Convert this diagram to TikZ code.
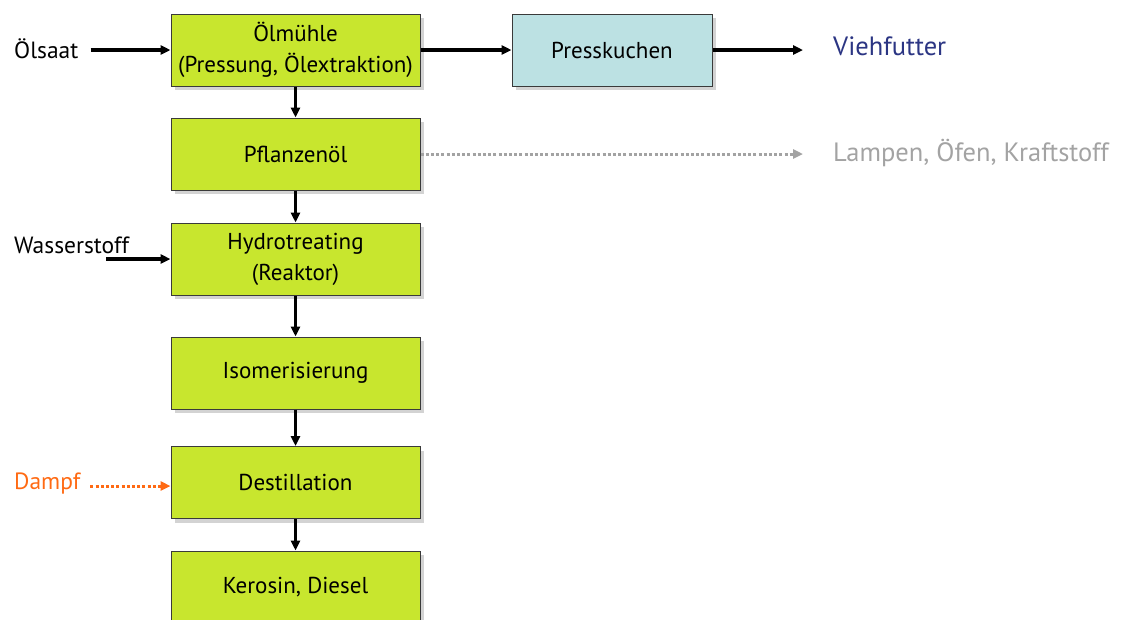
\documentclass[tikz,border=0pt]{standalone}
\usepackage{fontspec}
\setmainfont{PT Sans}
\usetikzlibrary{arrows.meta,shadows}
\definecolor{procgreen}{HTML}{C8E62E}
\definecolor{cakeblue}{HTML}{BCE1E3}
\definecolor{feedblue}{HTML}{2B3583}
\definecolor{usegray}{HTML}{A3A3A3}
\definecolor{steamorange}{HTML}{FF6A13}
\definecolor{edgegray}{HTML}{3A3A3A}
\tikzset{
  procbox/.style={draw=edgegray, line width=1pt, fill=procgreen,
    minimum width=249pt, minimum height=72pt, align=center,
    font=\fontsize{23}{31}\selectfont, inner sep=2pt,
    drop shadow={opacity=0.35, shadow xshift=4pt, shadow yshift=-4pt}},
  cakebox/.style={procbox, fill=cakeblue, minimum width=200pt},
  lbl/.style={inner sep=0pt, font=\fontsize{23.5}{28}\selectfont},
  outlbl/.style={lbl, font=\fontsize{26.5}{32}\selectfont},
  flow/.style={line width=3.2pt, -{Triangle[length=10pt,width=9pt]}},
  dotflow/.style={line width=3pt, dash pattern=on 3pt off 2.2pt,
    -{Triangle[length=10pt,width=9pt]}},
}
\begin{document}
\begin{tikzpicture}[x=1pt,y=-1pt]
\useasboundingbox (0,0) rectangle (1127,619);
% process chain
\node[procbox] (mill) at (295.5,50) {Ölmühle\\(Pressung, Ölextraktion)};
\node[procbox] (oil)  at (295.5,154) {Pflanzenöl};
\node[procbox] (hydro) at (295.5,259) {Hydrotreating\\(Reaktor)};
\node[procbox] (iso) at (295.5,373) {Isomerisierung};
\node[procbox] (dest) at (295.5,482.5) {Destillation};
\node[procbox] (fuel) at (295.5,587) {Kerosin, Diesel};
\node[cakebox] (cake) at (612,50) {Presskuchen};
% inputs and outputs
\node[lbl, anchor=west] (seed) at (14,49) {Ölsaat};
\node[outlbl, anchor=west, text=feedblue] (feed) at (833,46) {Viehfutter};
\node[outlbl, anchor=west, text=usegray] (uses) at (833,153) {Lampen, Öfen, Kraftstoff};
\node[lbl, anchor=west] (hyd) at (14,245) {Wasserstoff};
\node[lbl, anchor=west, text=steamorange] (steam) at (14,484) {Dampf};
\coordinate (hydin) at (106,259);
% main flows
\draw[flow, shorten <=12pt] (seed.east |- mill.west) -- (mill.west);
\draw[flow] (mill.east) -- (cake.west);
\draw[flow, shorten >=30pt] (cake.east) -- (feed.west |- cake.east);
\draw[flow] (mill) -- (oil);
\draw[flow] (oil) -- (hydro);
\draw[flow] (hydro) -- (iso);
\draw[flow] (iso) -- (dest);
\draw[flow] (dest) -- (fuel);
\draw[flow] (hydin) -- (hydin -| hydro.west);
% side streams
\draw[dotflow, usegray, shorten >=30pt] (oil.east) -- (uses.west |- oil.east);
\draw[dotflow, steamorange, shorten <=10pt] (steam.east |- 0,486) -- (dest.west |- 0,486);
\end{tikzpicture}
\end{document}
